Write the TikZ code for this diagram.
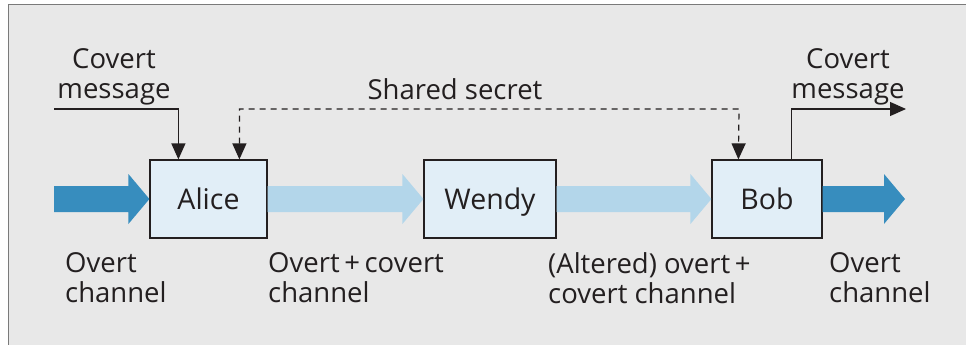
\documentclass[tikz,border=0pt]{standalone}
\usepackage{fontspec}
\setmainfont{Open Sans}
\usetikzlibrary{arrows.meta,calc}
\definecolor{panelbg}{HTML}{E8E8E8}
\definecolor{panelrule}{HTML}{7A7A7A}
\definecolor{boxfill}{HTML}{E1EEF7}
\definecolor{darkflow}{HTML}{378DBE}
\definecolor{lightflow}{HTML}{B3D6EA}
\definecolor{ink}{HTML}{231F20}
\tikzset{
  party/.style={draw=ink, line width=1.2pt, fill=boxfill, minimum height=78pt,
    inner sep=0pt, font=\fontsize{28.5}{32}\selectfont, text=ink,
    text height=20.4pt, text depth=0pt},
  label/.style={font=\fontsize{27.5}{30}\selectfont, text=ink, inner sep=0pt},
  flowdark/.style={fill=darkflow, draw=none},
  flowlight/.style={fill=lightflow, draw=none},
  tip/.tip={Triangle[length=16pt,width=14pt]},
  sig/.style={draw=ink, line width=1.2pt, -tip},
  sigdash/.style={draw=ink, line width=1.2pt, tip-tip, dash pattern=on 6pt off 5pt},
}
% a wide block arrow from coordinate #1 to tip #2, shaft half-height 13pt, head 25pt
\newcommand{\blockarrow}[3]{%
  \path[#3] let \p1=(#1), \p2=(#2) in
    (\x1,\y1+13pt) -- (\x2-21pt,\y1+13pt) -- (\x2-21pt,\y1+25pt) -- (\x2,\y1)
    -- (\x2-21pt,\y1-25pt) -- (\x2-21pt,\y1-13pt) -- (\x1,\y1-13pt) -- cycle;}
\begin{document}
\begin{tikzpicture}[x=1pt,y=-1pt]
\useasboundingbox (0,0) rectangle (966,345);
% panel
\fill[panelbg] (8,5) rectangle (966,345);
\draw[panelrule, line width=1pt] (8,345) -- (8,5) -- (966,5);

% parties
\node[party, minimum width=117pt] (alice) at (208.5,199) {Alice};
\node[party, minimum width=132pt] (wendy) at (490,199) {Wendy};
\node[party, minimum width=110pt] (bob) at (767,199) {Bob};

% channel flows
\coordinate (inL) at (54,199);
\coordinate (outR) at (905,199);
\blockarrow{inL}{alice.west}{flowdark}
\blockarrow{alice.east}{wendy.west}{flowlight}
\blockarrow{wendy.east}{bob.west}{flowlight}
\blockarrow{bob.east}{outR}{flowdark}

% covert message in / out
\coordinate (cmin) at (54,109);
\coordinate (cmout) at (906,109);
\coordinate (ssbend) at (739,109);
\draw[sig] (cmin) -| ($(alice.north west)+(29,0)$);
\draw[sig] ($(bob.north west)+(80,0)$) |- (cmout);
% shared secret, delivered to both ends
\draw[sigdash] ($(alice.north west)+(90,0)$) |- (ssbend) -- ($(bob.north west)+(27,0)$);

% texts
\node[label, align=center] (tcm1) at (114,77) {Covert\\message};
\node[label] (tss) at (455,89) {Shared secret};
\node[label, align=center] (tcm2) at (848,77) {Covert\\message};
\node[label, align=left, anchor=west] (toc1) at (65,278) {Overt\\channel};
\node[label, align=left, anchor=west] (toc2) at (268,278) {Overt\,+\,covert\\channel};
\node[label, align=left, anchor=west] (toc3) at (548,278) {(Altered) overt\,+\\covert channel};
\node[label, align=left, anchor=west] (toc4) at (829,278) {Overt\\channel};
\end{tikzpicture}
\end{document}
